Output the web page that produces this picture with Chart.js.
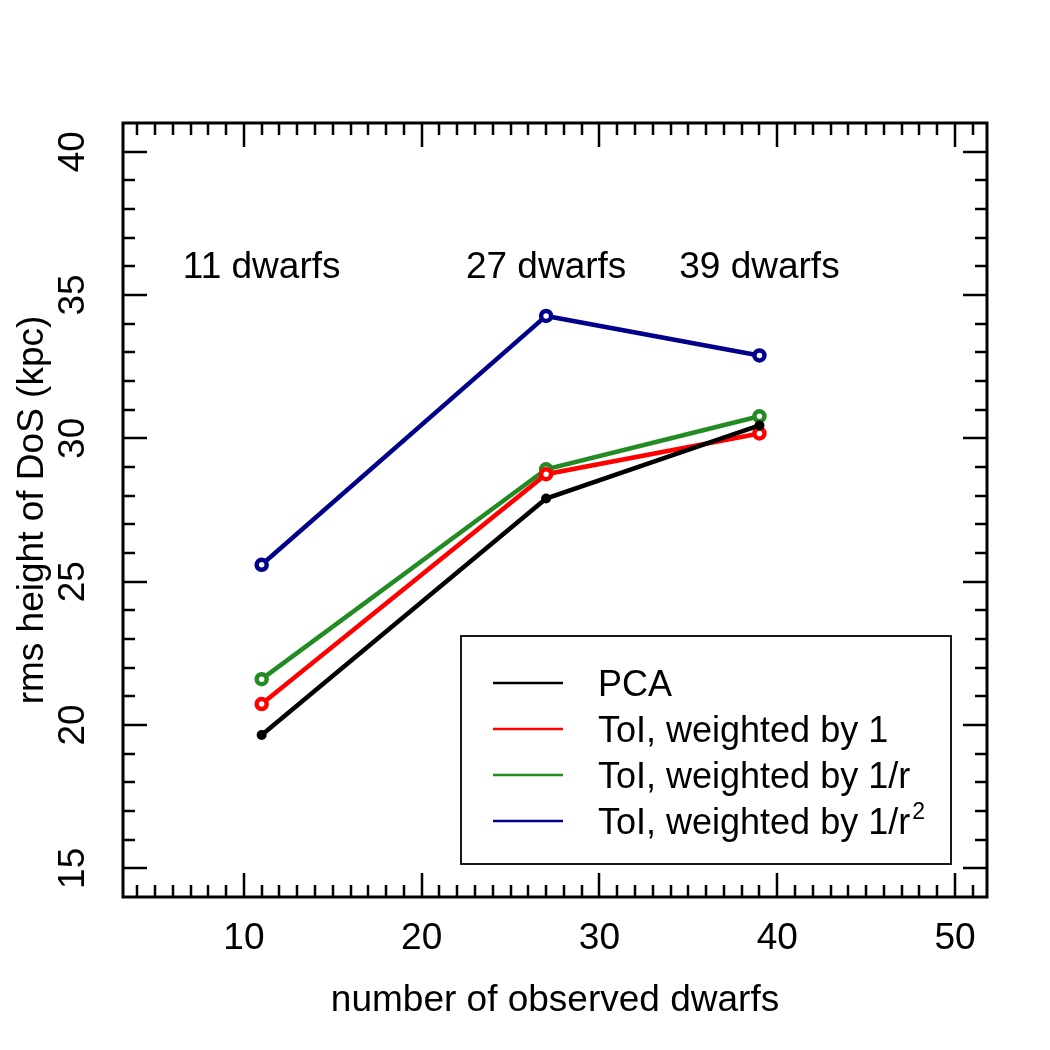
<!DOCTYPE html>
<html>
<head>
<meta charset="utf-8">
<script src="https://cdn.jsdelivr.net/npm/chart.js@4.4.1/dist/chart.umd.min.js"></script>
<style>
  html, body { margin: 0; padding: 0; background: #fff; }
  canvas { display: block; }
</style>
</head>
<body>
<canvas id="myChart" width="1050" height="1050"></canvas>
<script>
// number of observed dwarfs
const dwarfCounts = [11, 27, 39];

// rms height of DoS (kpc)
const pcaHeights = [19.65, 27.9, 30.45];
const toiWeight1 = [20.73, 28.75, 30.17];
const toiWeightR = [21.6, 28.92, 30.77];
const toiWeightR2 = [25.59, 34.27, 32.89];

const xTickLabels = [10, 20, 30, 40, 50];
const yTickLabels = [15, 20, 25, 30, 35, 40];

const sampleLabels = ["11 dwarfs", "27 dwarfs", "39 dwarfs"];
const sampleLabelX = [11, 27, 39];
const sampleLabelY = 36;

const FONT = '"Liberation Sans", Arial, Helvetica, sans-serif';

const toPoints = ys => dwarfCounts.map((x, i) => ({ x: x, y: ys[i] }));

const makeSeries = (label, ys, color, open) => ({
  label: label,
  data: toPoints(ys),
  borderColor: color,
  backgroundColor: open ? "#fff" : color,
  borderWidth: 4.5,
  pointRadius: open ? 5 : 5,
  pointBorderWidth: open ? 4.5 : 0,
  pointBorderColor: color,
  pointBackgroundColor: open ? "#fff" : color,
  tension: 0,
  fill: false
});

const datasets = [
  makeSeries("ToI, weighted by 1/r^2", toiWeightR2, "#00008B", true),
  makeSeries("PCA", pcaHeights, "#000000", false),
  makeSeries("ToI, weighted by 1", toiWeight1, "#FF0000", true),
  makeSeries("ToI, weighted by 1/r", toiWeightR, "#228B22", true)
];

const legendRows = [
  { text: "PCA", sup: "", color: "#000000" },
  { text: "ToI, weighted by 1", sup: "", color: "#FF0000" },
  { text: "ToI, weighted by 1/r", sup: "", color: "#228B22" },
  { text: "ToI, weighted by 1/r", sup: "2", color: "#00008B" }
];

const rFrame = {
  id: "rFrame",
  afterDraw(chart) {
    const ctx = chart.ctx;
    const a = chart.chartArea;
    const xs = chart.scales.x;
    const ys = chart.scales.y;
    ctx.save();
    ctx.strokeStyle = "#000";
    ctx.lineCap = "butt";

    // inward ticks on all four sides
    ctx.lineWidth = 2.5;
    for (let v = 4; v <= 51; v++) {
      const len = v % 10 === 0 ? 24 : 12;
      const px = Math.round(xs.getPixelForValue(v));
      ctx.beginPath();
      ctx.moveTo(px, a.bottom); ctx.lineTo(px, a.bottom - len);
      ctx.moveTo(px, a.top); ctx.lineTo(px, a.top + len);
      ctx.stroke();
    }
    for (let v = 15; v <= 40; v++) {
      const len = v % 5 === 0 ? 24 : 12;
      const py = Math.round(ys.getPixelForValue(v));
      ctx.beginPath();
      ctx.moveTo(a.left, py); ctx.lineTo(a.left + len, py);
      ctx.moveTo(a.right, py); ctx.lineTo(a.right - len, py);
      ctx.stroke();
    }

    // frame
    ctx.lineWidth = 3;
    ctx.strokeRect(a.left, a.top, a.right - a.left, a.bottom - a.top);

    // tick labels
    ctx.fillStyle = "#000";
    ctx.font = "37px " + FONT;
    ctx.textAlign = "center";
    ctx.textBaseline = "middle";
    xTickLabels.forEach(v => {
      ctx.fillText(String(v), xs.getPixelForValue(v), 939);
    });
    yTickLabels.forEach(v => {
      ctx.save();
      ctx.translate(74, ys.getPixelForValue(v));
      ctx.rotate(-Math.PI / 2);
      ctx.fillText(String(v), 0, 0);
      ctx.restore();
    });

    // sample size labels
    sampleLabels.forEach((t, i) => {
      ctx.fillText(t, xs.getPixelForValue(sampleLabelX[i]), ys.getPixelForValue(sampleLabelY) + 1);
    });

    // axis titles
    ctx.textBaseline = "alphabetic";
    ctx.fillText("number of observed dwarfs", (a.left + a.right) / 2, 1011);
    ctx.save();
    ctx.translate(43, (a.top + a.bottom) / 2);
    ctx.rotate(-Math.PI / 2);
    ctx.fillText("rms height of DoS (kpc)", 0, 0);
    ctx.restore();

    // legend box
    ctx.lineWidth = 1.8;
    ctx.strokeRect(461, 636, 490, 228);
    ctx.textAlign = "left";
    legendRows.forEach((row, i) => {
      const y = 683 + i * 46;
      ctx.strokeStyle = row.color;
      ctx.lineWidth = 2.5;
      ctx.beginPath();
      ctx.moveTo(493, y); ctx.lineTo(563, y);
      ctx.stroke();
      ctx.fillStyle = "#000";
      ctx.font = "36px " + FONT;
      ctx.fillText(row.text, 598, y + 13);
      if (row.sup) {
        const w = ctx.measureText(row.text).width;
        ctx.font = "23px " + FONT;
        ctx.fillText(row.sup, 598 + w + 2, y - 2);
      }
    });
    ctx.restore();
  }
};

new Chart(document.getElementById("myChart"), {
  type: "line",
  data: { datasets: datasets },
  options: {
    responsive: false,
    animation: false,
    devicePixelRatio: 1,
    layout: { padding: { left: 123, top: 123, right: 63, bottom: 153 } },
    plugins: { legend: { display: false }, tooltip: { enabled: false } },
    scales: {
      x: { type: "linear", min: 3.2, max: 51.8, display: false },
      y: { type: "linear", min: 14, max: 41, display: false }
    }
  },
  plugins: [rFrame]
});
</script>
</body>
</html>
